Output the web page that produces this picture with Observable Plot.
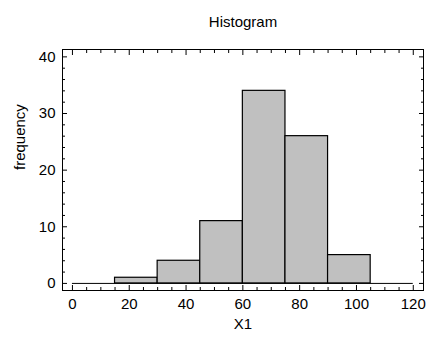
<!DOCTYPE html>
<html>
<head>
<meta charset="utf-8">
<script src="https://cdn.jsdelivr.net/npm/d3@7"></script>
<script src="https://cdn.jsdelivr.net/npm/@observablehq/plot@0.6"></script>
<style>
  html, body { margin: 0; padding: 0; background: #fff; }
  #chart svg { display: block; font-family: "Liberation Sans", Arial, sans-serif; }
</style>
</head>
<body>
<div id="chart"></div>
<script>
// Data
const binStart = [15, 30, 45, 60, 75, 90];
const binEnd   = [30, 45, 60, 75, 90, 105];
const counts   = [1, 4, 11, 34, 26, 5];
const xMajorTicks = [0, 20, 40, 60, 80, 100, 120];
const yMajorTicks = [0, 10, 20, 30, 40];
const titleText = "Histogram";
const xLabel = "X1";
const yLabel = "frequency";

const bins = binStart.map((s, i) => ({x1: s, x2: binEnd[i], count: counts[i]}));
const xMinor = d3.range(0, 121, 5).filter(v => !xMajorTicks.includes(v));
const yMinor = d3.range(0, 41, 2).filter(v => !yMajorTicks.includes(v));

const fontSize = 15;
const plot = Plot.plot({
  width: 445,
  height: 341,
  marginLeft: 62,
  marginRight: 22,
  marginTop: 49,
  marginBottom: 51,
  style: {fontFamily: '"Liberation Sans", Arial, sans-serif', fontSize: fontSize + "px", color: "#000", background: "#fff"},
  x: {domain: [-3.5, 123.6], axis: null},
  y: {domain: [-1.25, 41.3], axis: null},
  marks: [
    Plot.ruleY([0], {x1: 0, x2: 120, stroke: "black", strokeWidth: 1}),
    Plot.rectY(bins, {x1: "x1", x2: "x2", y: "count", fill: "#c0c0c0", stroke: "black", strokeWidth: 1.2}),
    // bottom axis
    Plot.axisX(xMajorTicks, {anchor: "bottom", tickSize: -5, tickPadding: 13, label: null, fontSize: fontSize}),
    Plot.axisX(xMinor, {anchor: "bottom", tickSize: -3, tickFormat: () => "", label: null}),
    // top axis (ticks only)
    Plot.axisX(xMajorTicks, {anchor: "top", tickSize: -5, tickFormat: () => "", label: null}),
    Plot.axisX(xMinor, {anchor: "top", tickSize: -3, tickFormat: () => "", label: null}),
    // left axis
    Plot.axisY(yMajorTicks, {anchor: "left", tickSize: -5, tickPadding: 12, label: null, fontSize: fontSize}),
    Plot.axisY(yMinor, {anchor: "left", tickSize: -3, tickFormat: () => "", label: null}),
    // right axis (ticks only)
    Plot.axisY(yMajorTicks, {anchor: "right", tickSize: -5, tickFormat: () => "", label: null}),
    Plot.axisY(yMinor, {anchor: "right", tickSize: -3, tickFormat: () => "", label: null}),
    Plot.frame({stroke: "black", strokeWidth: 1}),
    Plot.text([titleText], {frameAnchor: "top", dy: -33, fontSize: 15, text: d => d}),
    Plot.text([xLabel], {frameAnchor: "bottom", dy: 38, fontSize: 15, text: d => d}),
    Plot.text([yLabel], {frameAnchor: "left", dx: -42, rotate: -90, fontSize: 15, text: d => d})
  ]
});
document.getElementById("chart").appendChild(plot);
</script>
</body>
</html>
